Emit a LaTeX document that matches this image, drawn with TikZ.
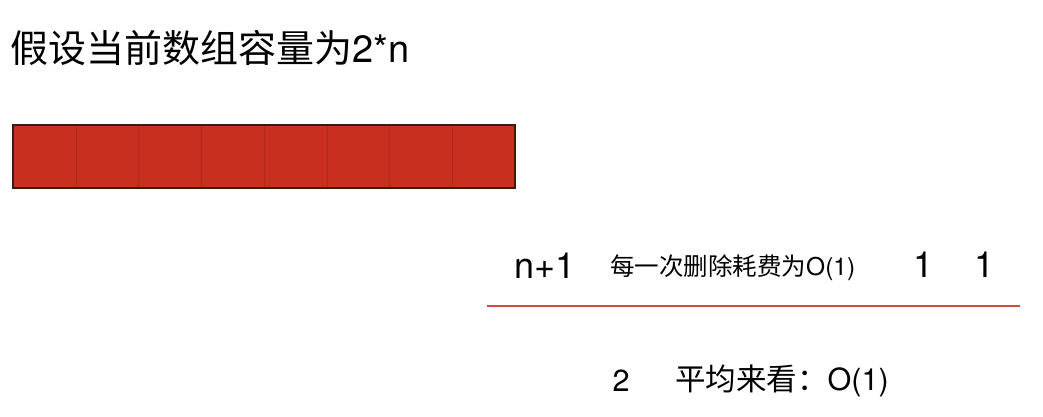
\documentclass[tikz,border=0pt]{standalone}
\usepackage{fontspec}
\setmainfont{TeX Gyre Heros}
\newfontfamily\cjk{Noto Sans CJK SC}
\usepackage{xcolor}
\definecolor{cellred}{HTML}{C92F1E}
\definecolor{cellline}{HTML}{3A1A16}
\definecolor{ruleline}{HTML}{D0503E}
\tikzset{
  cell/.style={draw=cellred!88!black,fill=cellred,line width=0.5pt},
  bigtxt/.style={inner sep=0pt,font=\fontsize{36}{40}\selectfont},
  smalltxt/.style={inner sep=0pt,font=\fontsize{24.5}{28}\selectfont},
  midtxt/.style={inner sep=0pt,font=\fontsize{30.5}{34}\selectfont}
}
\begin{document}
\begin{tikzpicture}[x=1pt,y=-1pt]
  \useasboundingbox (0,0) rectangle (1043,417);
  \node[inner sep=0pt,anchor=west,font=\fontsize{38}{42}\selectfont] (title) at (10,48) {{\cjk 假设当前数组容量为}2*n};
  % array of 8 cells
  \foreach \i in {0,...,7}
    \draw[cell] ({13+\i*62.75},125) rectangle ({13+(\i+1)*62.75},188);
  \draw[line width=1.4pt,draw=cellline] (13,125) rectangle (515,188);
  \node[bigtxt] (cnt) at (545,266) {n+1};
  \node[smalltxt,anchor=west] (cost) at (610,268) {{\cjk 每一次删除耗费为}O(1)};
  \node[bigtxt] (one) at (923,265) {1};
  \node[bigtxt] (onetwo) at (984,265) {1};
  \coordinate (ruleL) at (487,306);
  \coordinate (ruleR) at (1020,306);
  \draw[ruleline,line width=2pt] (ruleL) -- (ruleR);
  \node[midtxt] (den) at (621,381) {2};
  \node[midtxt,anchor=west] (avg) at (675,381) {{\cjk 平均来看：}O(1)};
\end{tikzpicture}
\end{document}
